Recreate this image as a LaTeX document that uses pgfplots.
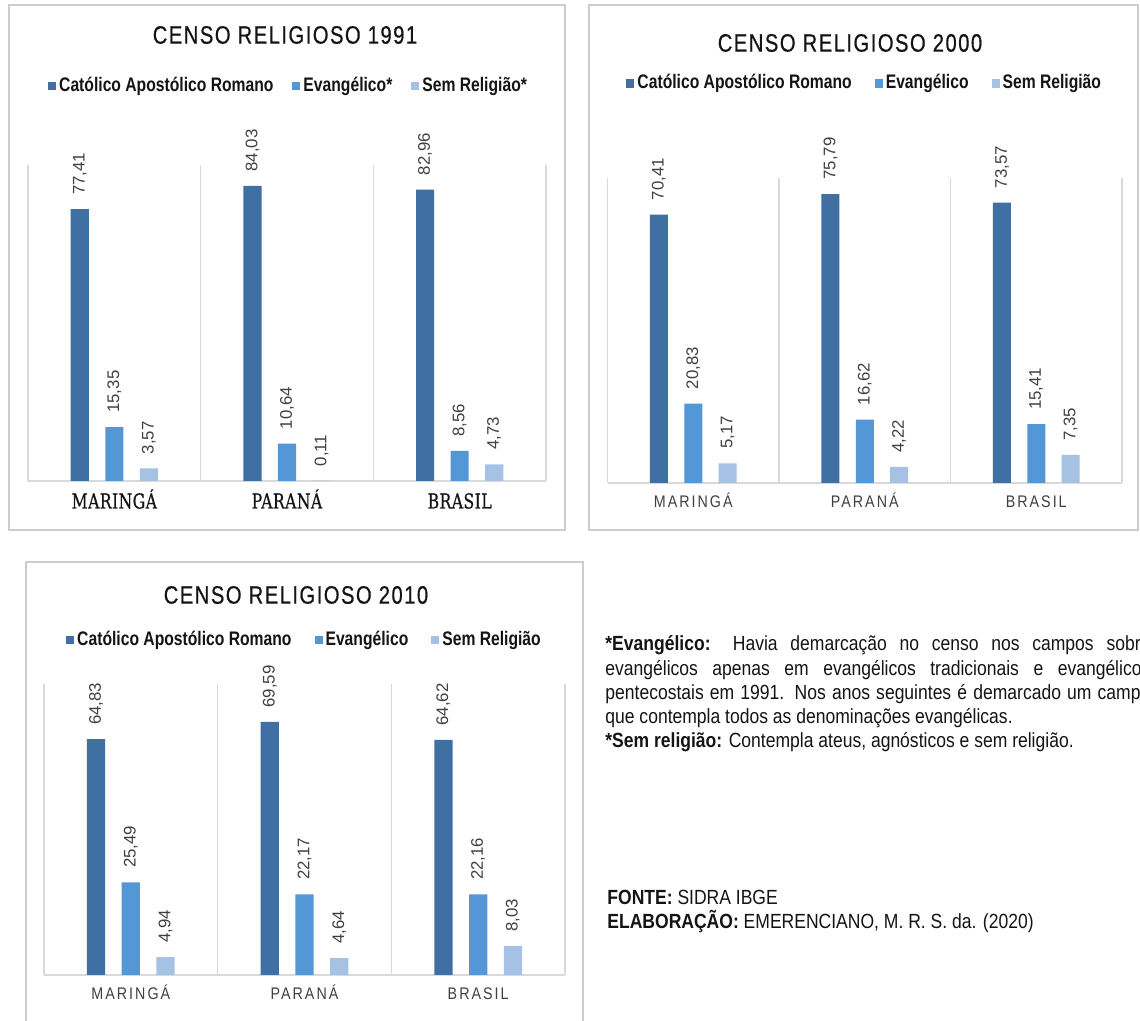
\documentclass[border=0pt]{standalone}
\usepackage{fontspec}
\usepackage{pgfplots}
\pgfplotsset{compat=1.18}
\setmainfont{Liberation Sans}
\newfontfamily\titlefont[FakeStretch=0.8,LetterSpace=6,FakeBold=0.6]{Liberation Sans}
\newfontfamily\legfont[FakeStretch=0.8]{Liberation Sans}
\newfontfamily\txtfont[FakeStretch=0.855]{Liberation Sans}
\newfontfamily\catsans[FakeStretch=0.85,LetterSpace=12]{Liberation Sans}
\newfontfamily\catserif[FakeStretch=0.76,LetterSpace=2,FakeBold=0.5]{DejaVu Serif}
\definecolor{cDark}{RGB}{64,111,163}
\definecolor{cMid}{RGB}{84,151,214}
\definecolor{cLight}{RGB}{165,194,228}
\definecolor{gridc}{RGB}{217,217,217}
\definecolor{framec}{RGB}{205,205,205}
\definecolor{txtc}{RGB}{20,20,20}
\definecolor{lblc}{RGB}{64,64,64}

\pgfplotstableread{
x cat evan sem
0 77.41 15.35 3.57
1 84.03 10.64 0.11
2 82.96 8.56 4.73
}\tabA
\pgfplotstableread{
x cat evan sem
0 70.41 20.83 5.17
1 75.79 16.62 4.22
2 73.57 15.41 7.35
}\tabB
\pgfplotstableread{
x cat evan sem
0 64.83 25.49 4.94
1 69.59 22.17 4.64
2 64.62 22.16 8.03
}\tabC

\pgfplotsset{
  censo/.style={
    scale only axis,
    ybar,
    xmin=-0.5, xmax=2.5, ymin=0,
    xtick={0,1,2},
    xticklabels={MARINGÁ,PARANÁ,BRASIL},
    minor xtick={-0.5,0.5,1.5,2.5},
    xminorgrids=true,
    minor grid style={gridc, line width=0.6pt},
    major tick length=0pt, minor tick length=0pt,
    axis x line=bottom,
    axis y line=none,
    x axis line style={-, draw=gridc, line width=0.7pt},
    ytick=\empty,
    bar width=0.105,
    /pgf/number format/use comma,
    /pgf/number format/fixed,
    /pgf/number format/fixed zerofill,
    /pgf/number format/precision=2,
    /pgf/number format/assume math mode=true,
    nodes near coords,
    nodes near coords style={rotate=90, anchor=west, inner xsep=7pt, inner ysep=0pt,
      font=\fontsize{8.4pt}{10pt}\selectfont, text=lblc},
    legend columns=3,
    legend image code/.code={\fill[##1,draw=none] (0pt,-2.2pt) rectangle (4pt,2.2pt);},
    legend style={draw=none, fill=none, anchor=center, inner sep=0pt, text=txtc,
      font=\fontsize{9.8pt}{11pt}\legfont\bfseries,
      nodes={inner sep=1.5pt},
      /tikz/every even column/.append style={column sep=10pt}},
  },
}

\begin{document}
\begin{tikzpicture}[x=0.5pt,y=0.5pt]
\useasboundingbox (0,0) rectangle (1140,1021);
\fill[white] (0,0) rectangle (1140,1021);

% frames
\draw[framec, line width=0.8pt] (9,1016) rectangle (565,491);
\draw[framec, line width=0.8pt] (589,1016) rectangle (1138,491);
\draw[framec, line width=0.8pt] (26,459) rectangle (583,-5);

% titles
\node[font=\fontsize{12.6pt}{15pt}\titlefont, text=txtc, inner sep=0pt] at (285,986) {CENSO RELIGIOSO 1991};
\node[font=\fontsize{12.6pt}{15pt}\titlefont, text=txtc, inner sep=0pt] at (850,978) {CENSO RELIGIOSO 2000};
\node[font=\fontsize{12.6pt}{15pt}\titlefont, text=txtc, inner sep=0pt] at (296,426) {CENSO RELIGIOSO 2010};

% Panel 1: 1991
\begin{axis}[censo, at={(14pt,270pt)}, anchor=south west,
  width=259pt, height=158pt, ymax=90,
  xticklabel style={font=\fontsize{10.3pt}{12pt}\catserif, text=txtc, anchor=base, yshift=-13.75pt},
  legend style={at={(0.504,1.25)}, /tikz/every even column/.append style={column sep=8pt}}]
\addplot[fill=cDark, draw=none, bar shift=-0.2] table[x=x,y=cat] {\tabA};
\addplot[fill=cMid, draw=none, bar shift=0] table[x=x,y=evan] {\tabA};
\addplot[fill=cLight, draw=none, bar shift=0.2] table[x=x,y=sem] {\tabA};
\legend{Católico Apostólico Romano, Evangélico*, Sem Religião*}
\end{axis}

% Panel 2: 2000
\begin{axis}[censo, at={(303.75pt,269pt)}, anchor=south west,
  width=257.25pt, height=152.5pt, ymax=80,
  xticklabel style={font=\fontsize{8.4pt}{10pt}\catsans, text=lblc, anchor=base, yshift=-12.5pt},
  legend style={at={(0.501,1.311)}}]
\addplot[fill=cDark, draw=none, bar shift=-0.2] table[x=x,y=cat] {\tabB};
\addplot[fill=cMid, draw=none, bar shift=0] table[x=x,y=evan] {\tabB};
\addplot[fill=cLight, draw=none, bar shift=0.2] table[x=x,y=sem] {\tabB};
\legend{Católico Apostólico Romano, Evangélico, Sem Religião}
\end{axis}

% Panel 3: 2010
\begin{axis}[censo, at={(22pt,23pt)}, anchor=south west,
  width=260.5pt, height=145.5pt, ymax=80,
  xticklabel style={font=\fontsize{8.4pt}{10pt}\catsans, text=lblc, anchor=base, yshift=-12.25pt},
  legend style={at={(0.501,1.151)}}]
\addplot[fill=cDark, draw=none, bar shift=-0.2] table[x=x,y=cat] {\tabC};
\addplot[fill=cMid, draw=none, bar shift=0] table[x=x,y=evan] {\tabC};
\addplot[fill=cLight, draw=none, bar shift=0.2] table[x=x,y=sem] {\tabC};
\legend{Católico Apostólico Romano, Evangélico, Sem Religião}
\end{axis}

% notes
\begin{scope}[every node/.style={anchor=base west, inner sep=0pt, text=txtc, font=\fontsize{10.25pt}{12pt}\txtfont}]
\node at (605,370) {\makebox[272.5pt][s]{\textbf{*Evangélico:} Havia demarcação no censo nos campos sobre}};
\node at (605,345.5) {\makebox[272.5pt][s]{evangélicos apenas em evangélicos tradicionais e evangélicos}};
\node at (605,321) {\makebox[272.5pt][s]{pentecostais em 1991. Nos anos seguintes é demarcado um campo}};
\node at (605,297) {que contempla todos as denominações evangélicas.};
\node at (605,273) {\textbf{*Sem religião:} Contempla ateus, agnósticos e sem religião.};
\node at (607,116) {\textbf{FONTE:} SIDRA IBGE};
\node at (607,92) {\textbf{ELABORAÇÃO:} EMERENCIANO, M. R. S. da. (2020)};
\end{scope}
\end{tikzpicture}
\end{document}
